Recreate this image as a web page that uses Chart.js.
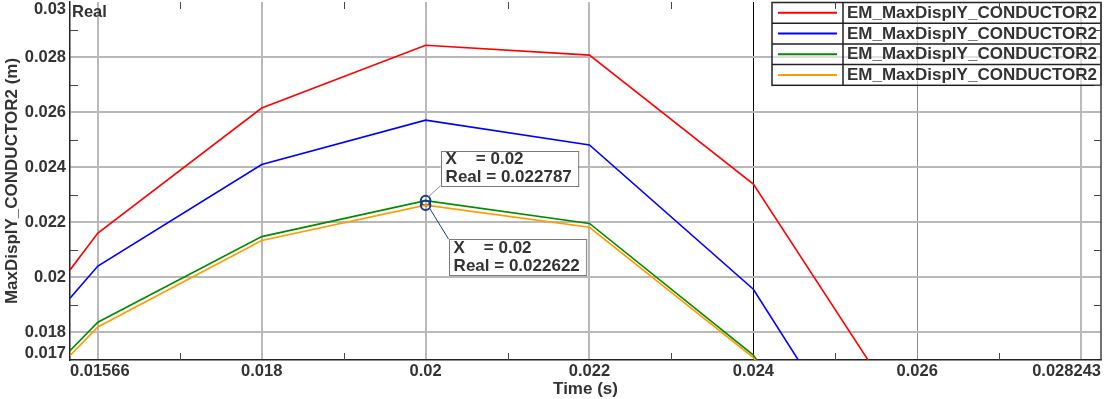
<!DOCTYPE html>
<html><head><meta charset="utf-8">
<script src="https://cdn.jsdelivr.net/npm/chart.js@4.4.0/dist/chart.umd.min.js"></script>
<style>html,body{margin:0;padding:0;background:#fff;overflow:hidden}#wrap{width:1105px;height:399px;position:relative}</style>
</head><body><div id="wrap"><canvas id="c" width="1105" height="399"></canvas></div>
<script>
// ---- data ----
const times = [0.01566, 0.016, 0.018, 0.02, 0.022, 0.024, 0.026];
const seriesLabels = ['EM_MaxDisplY_CONDUCTOR2', 'EM_MaxDisplY_CONDUCTOR2', 'EM_MaxDisplY_CONDUCTOR2', 'EM_MaxDisplY_CONDUCTOR2'];
const seriesColors = ['#ff0000', '#0000ff', '#008c00', '#ff9a00'];
const red    = [0.02027, 0.02161, 0.02615, 0.02843, 0.02807, 0.02339, 0.01426];
const blue   = [0.01924, 0.02041, 0.02410, 0.02571, 0.02481, 0.01957, 0.01020];
const green  = [0.01734, 0.01837, 0.02148, 0.022787, 0.02196, 0.01718, 0.00850];
const orange = [0.01716, 0.01820, 0.02134, 0.022622, 0.02182, 0.01709, 0.00830];
const xGridValues  = [0.016, 0.018, 0.02, 0.022, 0.024, 0.026, 0.028];
const xMinorValues = [0.017, 0.019, 0.021, 0.023, 0.025, 0.027];
const xTickLabels  = ['0.01566', '0.018', '0.02', '0.022', '0.024', '0.026', '0.028243'];
const yGridValues  = [0.018, 0.02, 0.022, 0.024, 0.026, 0.028];
const yMinorValues = [0.019, 0.021, 0.023, 0.025, 0.027, 0.029];
const yTickLabels  = ['0.017', '0.018', '0.02', '0.022', '0.024', '0.026', '0.028', '0.03'];
const xMin = 0.01566, xMax = 0.028243, yMin = 0.017, yMax = 0.03;
const cursorX = 0.02;
const yAxisTitle = 'MaxDisplY_CONDUCTOR2 (m)';
const xAxisTitle = 'Time (s)';
const quantityLabel = 'Real';

// ---- helpers ----
const FONT = "'Liberation Sans', Arial, sans-serif";
const TXT = '#333333';
const near = (a, b) => Math.abs(a - b) < 1e-9;
const inList = (v, list) => list.some(w => near(v, w));
const labelFor = (v, labels) => { const l = labels.find(s => near(Number(s), v)); return l === undefined ? '' : l; };
const cursorIndex = times.findIndex(t => near(t, cursorX));
const allSeries = [red, blue, green, orange];
const markedSeries = [2, 3];

const datasets = allSeries.map((vals, k) => ({
  label: seriesLabels[k],
  data: times.map((t, i) => ({x: t, y: vals[i]})),
  borderColor: seriesColors[k],
  backgroundColor: seriesColors[k],
  borderWidth: 1.6,
  tension: 0,
  fill: false,
  pointRadius: c => (markedSeries.includes(k) && c.dataIndex === cursorIndex) ? 4.8 : 0,
  pointBorderColor: '#1a3a80',
  pointBackgroundColor: 'rgba(0,0,0,0)',
  pointBorderWidth: 2,
  order: 4 - k
}));

const xTickValues = [xMin, ...xGridValues, ...xMinorValues, xMax].sort((a, b) => a - b);
const yTickValues = [yMin, ...yGridValues, ...yMinorValues, yMax].sort((a, b) => a - b);

function gridColorX(v) {
  if (near(v, 0.024)) return '#000000';
  if (near(v, 0.026)) return '#8c8c8c';
  if (inList(v, xGridValues)) return '#b9b9b9';
  return 'rgba(0,0,0,0)';
}
function gridWidthX(v) {
  if (near(v, 0.024) || near(v, 0.026)) return 1;
  return 2;
}

const framePlugin = {
  id: 'frame',
  beforeDatasetsDraw(chart) {
    const {ctx, chartArea: a} = chart;
    // legend table
    ctx.save();
    const lx = a.right - 329, ly = a.top + 0.5, rowH = 20.7, sepX = lx + 71;
    const n = chart.data.datasets.length;
    ctx.fillStyle = 'rgba(255,255,255,0.55)';
    ctx.fillRect(lx, ly, a.right - lx, rowH * n);
    ctx.font = "bold 17px " + FONT;
    ctx.textBaseline = 'middle';
    ctx.textAlign = 'left';
    chart.data.datasets.forEach((ds, i) => {
      const cy = ly + rowH * i + rowH / 2;
      ctx.strokeStyle = ds.borderColor;
      ctx.lineWidth = 2;
      ctx.beginPath(); ctx.moveTo(lx + 6, cy); ctx.lineTo(sepX - 6, cy); ctx.stroke();
      ctx.fillStyle = TXT;
      ctx.fillText(ds.label, sepX + 4, cy + 0.5);
    });
    ctx.strokeStyle = '#222';
    ctx.lineWidth = 1.5;
    ctx.strokeRect(lx, ly, a.right - lx, rowH * n);
    ctx.beginPath();
    for (let i = 1; i < n; i++) { ctx.moveTo(lx, ly + rowH * i); ctx.lineTo(a.right, ly + rowH * i); }
    ctx.moveTo(sepX, ly); ctx.lineTo(sepX, ly + rowH * n);
    ctx.stroke();
    ctx.restore();
  },
  afterDatasetsDraw(chart) {
    const {ctx, chartArea: a, scales: {x, y}} = chart;
    ctx.save();
    // right border
    ctx.strokeStyle = '#444';
    ctx.lineWidth = 1.5;
    ctx.beginPath();
    ctx.moveTo(a.right, a.top); ctx.lineTo(a.right, a.bottom);
    ctx.stroke();
    // minor ticks
    ctx.lineWidth = 1;
    ctx.strokeStyle = '#444';
    ctx.beginPath();
    xMinorValues.forEach(v => {
      const px = Math.round(x.getPixelForValue(v)) + 0.5;
      ctx.moveTo(px, a.bottom); ctx.lineTo(px, a.bottom - 7);
      ctx.moveTo(px, a.top); ctx.lineTo(px, a.top + 7);
    });
    yMinorValues.forEach(v => {
      const py = Math.round(y.getPixelForValue(v)) + 0.5;
      ctx.moveTo(a.left, py); ctx.lineTo(a.left + 8, py);
      ctx.moveTo(a.right, py); ctx.lineTo(a.right - 7, py);
    });
    ctx.stroke();
    // quantity label
    ctx.fillStyle = TXT;
    ctx.font = "bold 16.5px " + FONT;
    ctx.textAlign = 'left';
    ctx.textBaseline = 'middle';
    ctx.fillText(quantityLabel, a.left + 2, a.top + 10);

    // cursor annotations
    const gx = x.getPixelForValue(cursorX);
    const drawBox = (left, top, lines, lineYs, h) => {
      ctx.font = "bold 17px " + FONT;
      const w = Math.max(...lines.map(s => ctx.measureText(s).width)) + 11;
      ctx.fillStyle = '#ffffff';
      ctx.fillRect(left, top, w, h);
      ctx.strokeStyle = '#7a7a7a';
      ctx.lineWidth = 1;
      ctx.strokeRect(Math.round(left) + 0.5, Math.round(top) + 0.5, w, h);
      ctx.fillStyle = TXT;
      ctx.textAlign = 'left';
      ctx.textBaseline = 'middle';
      lines.forEach((s, i) => ctx.fillText(s, left + 5, top + lineYs[i]));
    };
    // upper (green)
    const gy1 = y.getPixelForValue(green[cursorIndex]);
    const b1l = gx + 15, b1t = gy1 - 50;
    ctx.strokeStyle = '#8a8a8a'; ctx.lineWidth = 1;
    ctx.beginPath(); ctx.moveTo(gx + 3, gy1 - 4); ctx.lineTo(b1l, b1t + 35); ctx.stroke();
    drawBox(b1l, b1t, ['X    = ' + cursorX, quantityLabel + ' = ' + green[cursorIndex]], [8.5, 27], 35);
    // lower (orange)
    const gy2 = y.getPixelForValue(orange[cursorIndex]);
    const b2l = gx + 23, b2t = gy2 + 34;
    ctx.strokeStyle = '#1a3a80'; ctx.lineWidth = 1;
    ctx.beginPath(); ctx.moveTo(gx + 4, gy2 + 3); ctx.lineTo(b2l, b2t); ctx.stroke();
    drawBox(b2l, b2t, ['X    = ' + cursorX, quantityLabel + ' = ' + orange[cursorIndex]], [9.5, 27.5], 36);
    ctx.restore();
  }
};

new Chart(document.getElementById('c'), {
  type: 'line',
  data: {datasets},
  plugins: [framePlugin],
  options: {
    responsive: false,
    animation: false,
    events: [],
    layout: {padding: {top: 2, right: 4, left: 0, bottom: 0}},
    plugins: {legend: {display: false}, tooltip: {enabled: false}},
    scales: {
      x: {
        type: 'linear', min: xMin, max: xMax,
        afterBuildTicks: s => { s.ticks = xTickValues.map(v => ({value: v})); },
        afterFit: s => { s.height = 39; s.paddingLeft = 0; s.paddingRight = 0; },
        ticks: {autoSkip: false, maxRotation: 0, minRotation: 0, align: 'inner', padding: 2, color: TXT,
                font: {family: FONT, size: 16.5, weight: 'bold'},
                callback: v => labelFor(v, xTickLabels)},
        grid: {drawTicks: false, color: c => gridColorX(c.tick.value), lineWidth: c => gridWidthX(c.tick.value)},
        border: {display: true, color: '#222', width: 1.5},
        title: {display: true, text: xAxisTitle, color: TXT, font: {family: FONT, size: 17, weight: 'bold', lineHeight: 1.1}, padding: {top: 0, bottom: 0}}
      },
      y: {
        type: 'linear', min: yMin, max: yMax,
        afterBuildTicks: s => { s.ticks = yTickValues.map(v => ({value: v})); },
        afterFit: s => { s.width = 70; s.paddingTop = 0; s.paddingBottom = 0; },
        ticks: {autoSkip: false, padding: 4, color: TXT,
                font: {family: FONT, size: 16.5, weight: 'bold', lineHeight: '14px'},
                callback: v => {
                  const l = labelFor(v, yTickLabels);
                  if (near(v, yMax)) return ['', l];
                  if (near(v, yMin)) return [l, ''];
                  return l;
                }},
        grid: {drawTicks: false, color: c => inList(c.tick.value, yGridValues) ? '#b9b9b9' : 'rgba(0,0,0,0)', lineWidth: 2},
        border: {display: true, color: '#222', width: 1.5},
        title: {display: true, text: yAxisTitle, color: TXT, font: {family: FONT, size: 17, weight: 'bold'}, padding: {top: 2, bottom: 0}}
      }
    }
  }
});
</script>
</body></html>
